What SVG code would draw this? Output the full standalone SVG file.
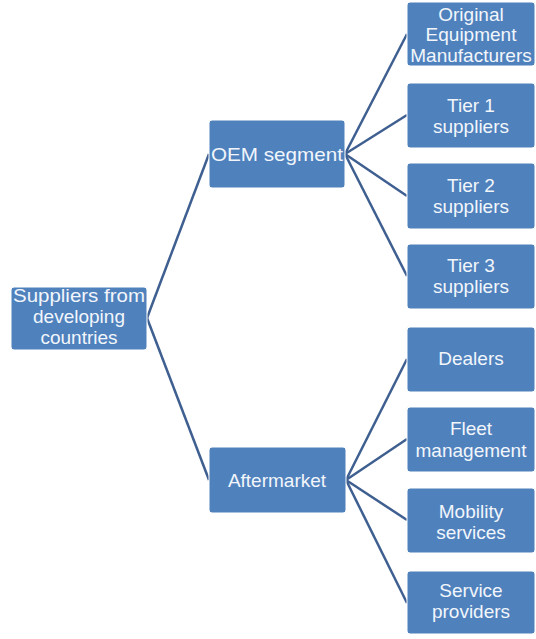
<svg xmlns="http://www.w3.org/2000/svg" width="536" height="639" viewBox="0 0 536 639">
<style>
.box{fill:#4f81bd;stroke:#ffffff;stroke-width:1}
.t{font-family:"Liberation Sans",Arial,sans-serif;font-size:19px;fill:#f2f6fb;text-anchor:middle}
.c{fill:none;stroke:#3e5f90;stroke-width:2.5}
</style>
<rect width="536" height="639" fill="#ffffff"/>
<g id="connectors">
<path class="c" d="M147,318 L209,154"/>
<path class="c" d="M147,318 L209,480"/>
<path class="c" d="M345,154 L407,34"/>
<path class="c" d="M345,154 L407,115"/>
<path class="c" d="M345,154 L407,196"/>
<path class="c" d="M345,154 L407,276"/>
<path class="c" d="M346,480 L407,359"/>
<path class="c" d="M346,480 L407,439"/>
<path class="c" d="M346,480 L407,520"/>
<path class="c" d="M346,480 L407,603"/>
</g>
<g id="root">
<rect class="box" x="11" y="287" width="136" height="63" rx="3"/>
<text class="t" x="79" y="302" textLength="132" lengthAdjust="spacingAndGlyphs">Suppliers from</text>
<text class="t" x="79" y="323" font-size="20">developing</text>
<text class="t" x="79" y="344" font-size="20">countries</text>
</g>
<g id="oem">
<rect class="box" x="209" y="120" width="136" height="68" rx="3"/>
<text class="t" x="277" y="161" textLength="132" lengthAdjust="spacingAndGlyphs">OEM segment</text>
</g>
<g id="aftermarket">
<rect class="box" x="209" y="447" width="137" height="66" rx="3"/>
<text class="t" x="277" y="487" font-size="20">Aftermarket</text>
</g>
<g id="original">
<rect class="box" x="407" y="2" width="128" height="64" rx="3"/>
<text class="t" x="471" y="21">Original</text>
<text class="t" x="471" y="41">Equipment</text>
<text class="t" x="471" y="62">Manufacturers</text>
</g>
<g id="tier1">
<rect class="box" x="407" y="83" width="128" height="65" rx="3"/>
<text class="t" x="471" y="112">Tier 1</text>
<text class="t" x="471" y="133">suppliers</text>
</g>
<g id="tier2">
<rect class="box" x="407" y="163" width="128" height="66" rx="3"/>
<text class="t" x="471" y="192">Tier 2</text>
<text class="t" x="471" y="213">suppliers</text>
</g>
<g id="tier3">
<rect class="box" x="407" y="244" width="128" height="65" rx="3"/>
<text class="t" x="471" y="272">Tier 3</text>
<text class="t" x="471" y="293">suppliers</text>
</g>
<g id="dealers">
<rect class="box" x="407" y="327" width="128" height="65" rx="3"/>
<text class="t" x="471" y="365" font-size="20">Dealers</text>
</g>
<g id="fleet">
<rect class="box" x="407" y="407" width="128" height="65" rx="3"/>
<text class="t" x="471" y="435">Fleet</text>
<text class="t" x="471" y="457" font-size="20">management</text>
</g>
<g id="mobility">
<rect class="box" x="407" y="488" width="128" height="65" rx="3"/>
<text class="t" x="471" y="518">Mobility</text>
<text class="t" x="471" y="539">services</text>
</g>
<g id="service">
<rect class="box" x="407" y="571" width="128" height="63" rx="3"/>
<text class="t" x="471" y="597">Service</text>
<text class="t" x="471" y="618">providers</text>
</g>
</svg>
